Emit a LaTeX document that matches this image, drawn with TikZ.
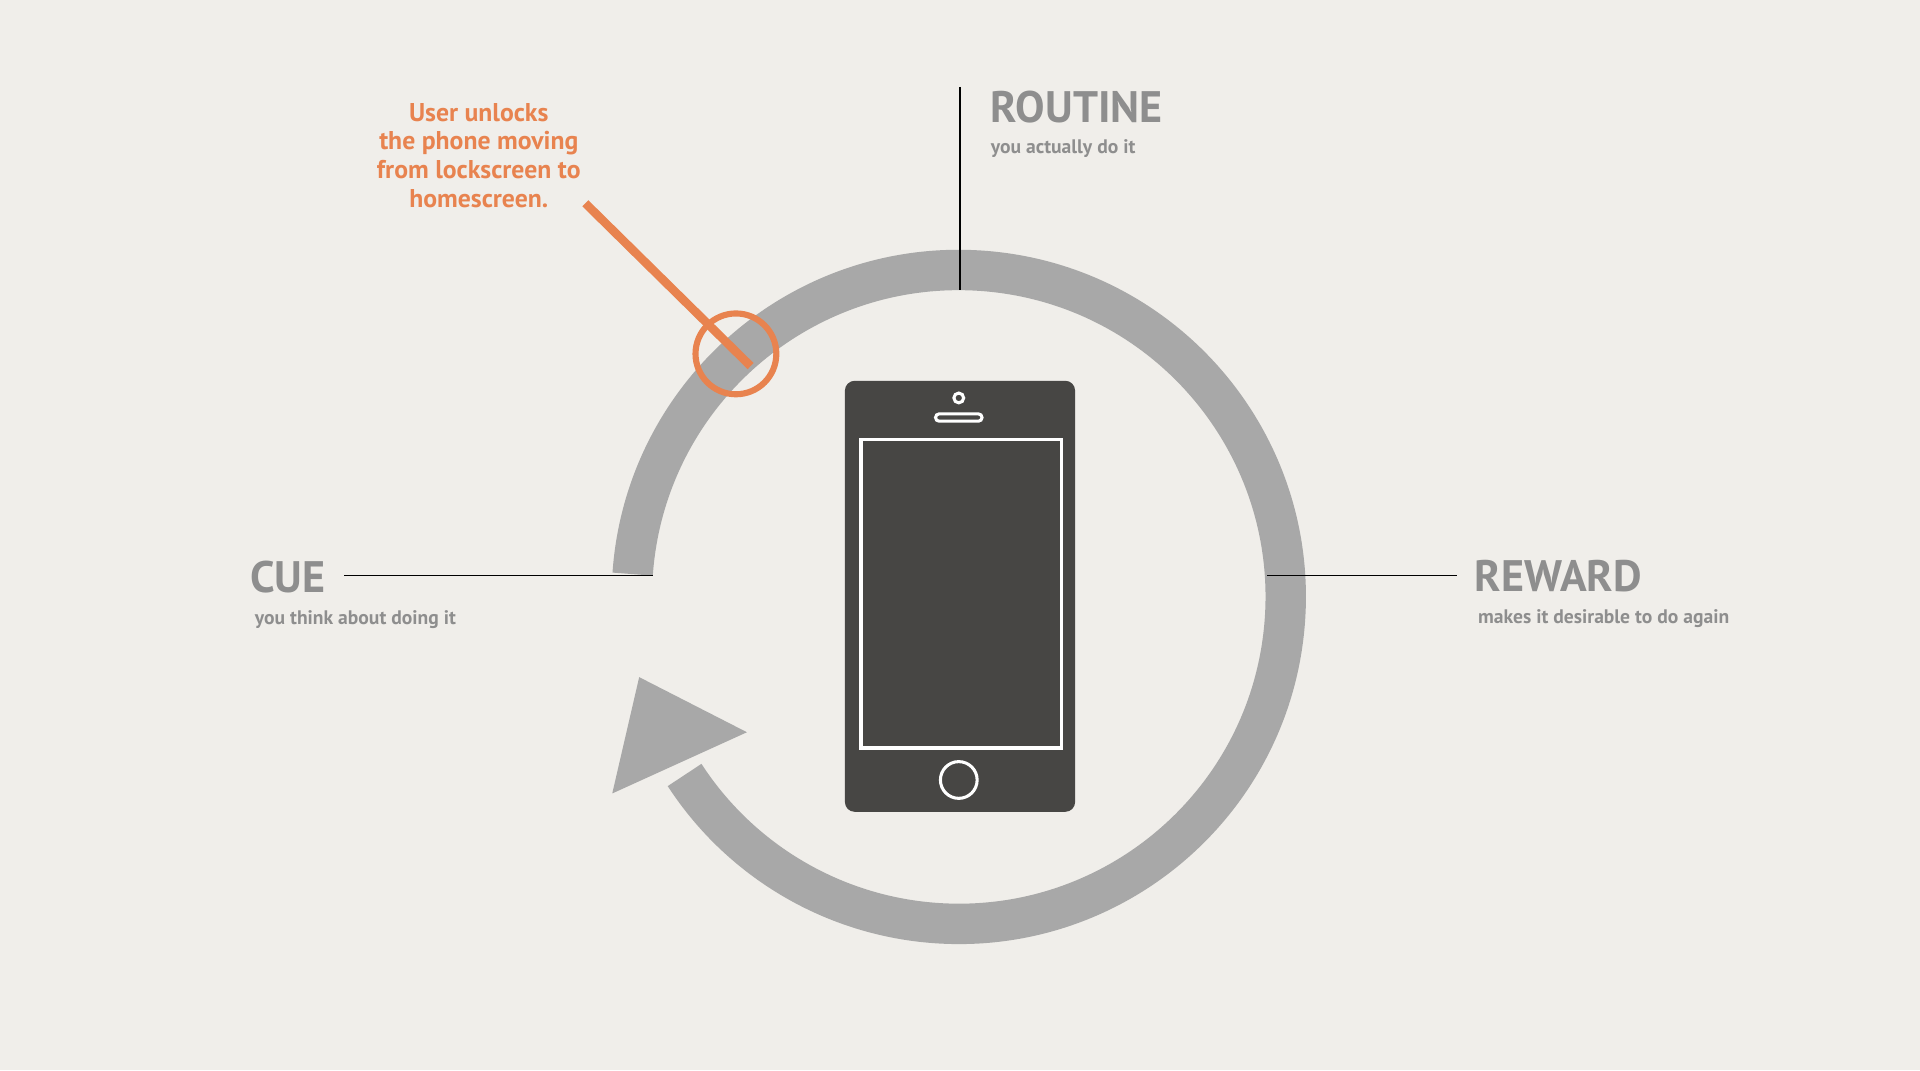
\documentclass[tikz,border=0pt]{standalone}
\usetikzlibrary{calc}
\usepackage{fontspec}
\setmainfont{PT Sans}
\definecolor{bg}{HTML}{F0EEEA}
\definecolor{ring}{HTML}{A8A8A8}
\definecolor{phone}{HTML}{474644}
\definecolor{org}{HTML}{E8834F}
\definecolor{ttl}{HTML}{8E8E8E}
\begin{document}
\begin{tikzpicture}[x=1pt,y=1pt,
  title/.style={font=\fontsize{36}{36}\selectfont\bfseries,text=ttl,anchor=base west,inner sep=0},
  sub/.style={font=\fontsize{16}{16}\selectfont\bfseries,text=ttl,anchor=base west,inner sep=0},
  thin/.style={black,line width=1.2}]
\fill[bg] (0,0) rectangle (1568,874);
\useasboundingbox (0,0) rectangle (1568,874);
\coordinate (c) at (783,386.5);
% ring
\draw[ring,line width=33] ($(c)+(176:267)$) arc[start angle=176,end angle=-147,radius=267];
\fill[ring] (522,321) -- (610,276) -- (500,226) -- cycle;
% lines
\coordinate (r1) at (784,803); \coordinate (r2) at (784,637);
\draw[thin] (r1) -- (r2);
\coordinate (c1) at (281,404); \coordinate (c2) at (533,404);
\draw[thin] (c1) -- (c2);
\coordinate (w1) at (1035,404); \coordinate (w2) at (1190,404);
\draw[thin] (w1) -- (w2);
% phone
\node[fill=phone,rounded corners=8,minimum width=188,minimum height=352,inner sep=0] (ph) at (784,387) {};
\draw[white,line width=3] (703,263) rectangle (867,515);
\draw[white,line width=2.5] (783,237) circle (15);
\draw[white,line width=2.5] (783,549) circle (4);
\draw[white,line width=2.5,rounded corners=3] (764,530) rectangle (802,536);
% orange
\node[draw=org,line width=5,circle,minimum size=66,inner sep=0] (oc) at (601,585) {};
\coordinate (o1) at (478,708); \coordinate (o2) at (613,575);
\draw[org,line width=7] (o1) -- (o2);
\node[text=org,font=\fontsize{21}{23.5}\selectfont\bfseries,align=center,anchor=north,inner sep=0] (ot) at (391,790)
 {User unlocks\\the phone moving\\from lockscreen to\\homescreen.};
% texts
\node[title] (rt) at (809,774) {ROUTINE};
\node[sub] (rs) at (809,749) {you actually do it};
\node[title] (ct) at (204,390) {CUE};
\node[sub] (cs) at (208,364) {you think about doing it};
\node[title] (wt) at (1204,391) {REWARD};
\node[sub] (ws) at (1207,365) {makes it desirable to do again};
\end{tikzpicture}
\end{document}
